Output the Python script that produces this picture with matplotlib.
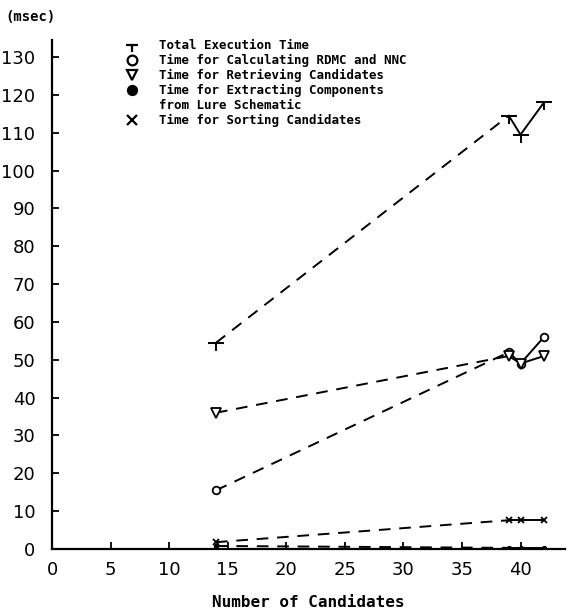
import numpy as np
import matplotlib
matplotlib.use('Agg')
import matplotlib.pyplot as plt
from matplotlib.path import Path
from matplotlib.lines import Line2D

# values
n_cand = [14, 39, 40, 42]
total_time = [54.5, 114.5, 109.5, 118]
rdmc_time = [15.5, 52, 49, 56]
retrieve_time = [36, 51, 49, 51]
extract_time = [0.8, 0.3, 0.3, 0.3]
sort_time = [1.8, 7.6, 7.6, 7.6]

series_labels = ['Total Execution Time',
                 'Time for Calculating RDMC and NNC',
                 'Time for Retrieving Candidates',
                 'Time for Extracting Components',
                 'Time for Sorting Candidates']
extract_label_2 = 'from Lure Schematic'

x_ticks = [0, 5, 10, 15, 20, 25, 30, 35, 40]
y_ticks = list(range(0, 131, 10))

# "T" shaped marker
t_marker = Path([(-1, 0), (1, 0), (0, 0), (0, -1.1)],
                [Path.MOVETO, Path.LINETO, Path.MOVETO, Path.LINETO])

mono = {'family': 'DejaVu Sans Mono', 'weight': 'bold'}

fig = plt.figure(figsize=(5.69, 6.11), dpi=100)
ax = fig.add_axes([0.0914, 0.1015, 0.9016, 0.833])

styles = [
    (total_time, dict(marker=t_marker, ms=12, mfc='none', mew=1.4)),
    (rdmc_time, dict(marker='o', ms=5.5, mfc='white', mew=1.3)),
    (retrieve_time, dict(marker='v', ms=6.5, mfc='white', mew=1.3)),
    (extract_time, dict(marker='o', ms=3, mfc='k', mew=0.8)),
    (sort_time, dict(marker='x', ms=4.5, mew=1.3)),
]

for y, st in styles:
    ax.plot(n_cand[:2], y[:2], color='k', lw=1.4, ls=(0, (6, 4.5)))
    ax.plot(n_cand[1:], y[1:], color='k', lw=1.4, ls='-')
    ax.plot(n_cand, y, ls='none', color='k', mec='k', zorder=3, **st)

handles = []
leg_sizes = [10, 7, 7, 6.5, 6.5]
for (y, st), s in zip(styles, leg_sizes):
    h = dict(st)
    h['ms'] = s
    h['mew'] = 1.6
    if h.get('mfc') == 'white':
        h['mfc'] = 'none'
    handles.append(Line2D([], [], ls='none', color='k', mec='k', **h))

# second line of the extracting label gets an empty handle
leg_handles = handles[:4] + [Line2D([], [], ls='none', marker='none')] + handles[4:]
leg_labels = series_labels[:4] + [extract_label_2] + series_labels[4:]

leg = ax.legend(leg_handles, leg_labels, loc='upper left',
                bbox_to_anchor=(0.142, 1.002), frameon=False,
                prop={'family': 'DejaVu Sans Mono', 'weight': 'bold', 'size': 9},
                handlelength=1.2, handletextpad=1.5, labelspacing=0.16,
                borderpad=0, borderaxespad=0)

ax.set_xlim(0, 43.8)
ax.set_ylim(0, 134.5)
ax.set_xticks(x_ticks)
ax.set_yticks(y_ticks)
ax.tick_params(direction='in', length=5, width=1.3, labelsize=13)
ax.tick_params(axis='x', pad=9)
ax.tick_params(axis='y', pad=12)
for s in ['top', 'right']:
    ax.spines[s].set_visible(False)
for s in ['left', 'bottom']:
    ax.spines[s].set_linewidth(1.6)

ax.set_xlabel('Number of Candidates', fontdict=dict(mono, size=11.5), labelpad=11)
fig.text(0.01, 0.972, '(msec)', ha='left', va='center', **mono, size=10)

fig.savefig('out.png', dpi=100)
